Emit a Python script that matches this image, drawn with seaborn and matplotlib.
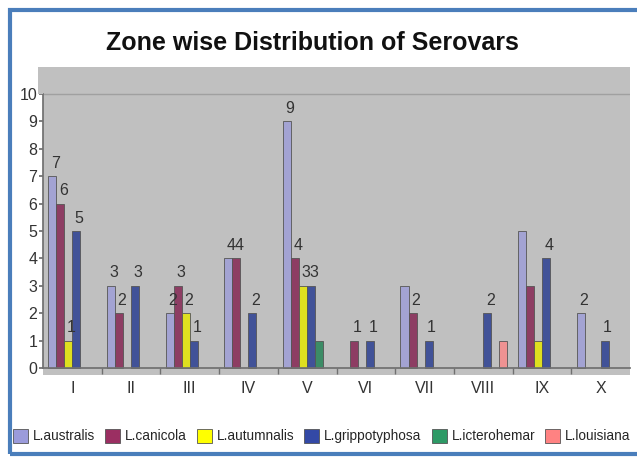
import numpy as np
import pandas as pd
import matplotlib
matplotlib.use('Agg')
import matplotlib.pyplot as plt
import seaborn as sns
from matplotlib.patches import Rectangle

zones = ['I', 'II', 'III', 'IV', 'V', 'VI', 'VII', 'VIII', 'IX', 'X']
serovars = ['L.australis', 'L.canicola', 'L.autumnalis', 'L.grippotyphosa',
            'L.icterohemar', 'L.louisiana']

australis = [7, 3, 2, 4, 9, 0, 3, 0, 5, 2]
canicola = [6, 2, 3, 4, 4, 1, 2, 0, 3, 0]
autumnalis = [1, 0, 2, 0, 3, 0, 0, 0, 1, 0]
grippotyphosa = [5, 3, 1, 2, 3, 1, 1, 2, 4, 1]
icterohemar = [0, 0, 0, 0, 1, 0, 0, 0, 0, 0]
louisiana = [0, 0, 0, 0, 0, 0, 0, 1, 0, 0]

# data labels that the original chart does not show
hidden_labels = [('V', 'L.icterohemar'), ('VII', 'L.australis'), ('VIII', 'L.louisiana'),
                 ('IX', 'L.australis'), ('IX', 'L.canicola'), ('IX', 'L.autumnalis')]

colors = ['#9B9BDB', '#9B2F62', '#FFFF00', '#3349A6', '#2E9A66', '#FF8282']

# long format table, zero counts dropped so no empty bars get drawn
rows = []
for name, vals in zip(serovars, [australis, canicola, autumnalis, grippotyphosa,
                                 icterohemar, louisiana]):
    for z, v in zip(zones, vals):
        if v > 0:
            rows.append({'Zone': z, 'Serovar': name, 'Count': v})
df = pd.DataFrame(rows)

sns.set_theme(style='white')
plt.rcParams['font.family'] = ['Liberation Sans', 'DejaVu Sans']

W, H = 637, 457
fig = plt.figure(figsize=(W / 100, H / 100), dpi=100)
ax = fig.add_axes([43 / W, 1 - 375 / H, (630 - 43) / W, (375 - 67) / H])
ax.set_facecolor('#C0C0C0')

sns.barplot(data=df, x='Zone', y='Count', hue='Serovar', order=zones,
            hue_order=serovars, palette=colors, width=0.82, dodge=True,
            edgecolor='#555555', linewidth=0.6, legend=False, ax=ax)

ax.set_xlim(-0.5, len(zones) - 0.5)
ax.set_ylim(-0.255, 10.985)
ax.set_yticks(range(0, 11))
ax.set_xlabel('')
ax.set_ylabel('')

# value labels above bars
for name, cont in zip(serovars, ax.containers):
    for bar in cont:
        h = bar.get_height()
        if np.isnan(h) or h == 0:
            continue
        zi = int(round(bar.get_x() + bar.get_width() / 2))
        if (zones[zi], name) in hidden_labels:
            continue
        ax.text(bar.get_x() + bar.get_width() / 2 + 0.05, h + 0.2, f'{int(h)}',
                ha='center', va='bottom', fontsize=11.5, color='#333333')

ax.axhline(10, color='#A0A0A0', lw=1, zorder=0)
for s in ['top', 'right']:
    ax.spines[s].set_visible(False)
ax.spines['left'].set_bounds(0, 10)
ax.spines['left'].set_color('#707070')
ax.spines['bottom'].set_position(('data', 0))
ax.spines['bottom'].set_color('#707070')
ax.tick_params(axis='y', direction='out', length=3, color='#707070', labelsize=11.5,
               labelcolor='#333333', pad=1, left=True)
ax.tick_params(axis='x', which='major', length=0, labelsize=11.5, labelcolor='#333333', pad=9)
ax.set_xticks(np.arange(0.5, len(zones) - 1, 1), minor=True)
ax.tick_params(axis='x', which='minor', direction='out', length=4, color='#707070', bottom=True)

# back wall strip to the left of the axis (3D look of the original)
fig.add_artist(Rectangle((38 / W, 1 - 94 / H), 5 / W, 27 / H, transform=fig.transFigure,
                         facecolor='#C0C0C0', edgecolor='none'))

fig.text(0.49, 1 - 43 / H, 'Zone wise Distribution of Serovars', ha='center', va='center',
         fontsize=18, fontweight='bold', color='#111111')

handles = [Rectangle((0, 0), 1, 1, facecolor=c, edgecolor='#555555', linewidth=0.6)
           for c in colors]
fig.legend(handles, serovars, loc='center', bbox_to_anchor=(0.505, 1 - 436 / H), ncol=6,
           frameon=False, fontsize=9.8, handlelength=1.1, handleheight=1.3,
           handletextpad=0.35, columnspacing=0.75)

# blue frame around the chart
fig.add_artist(Rectangle((9.5 / W, 1 - 454 / H), 1.0, (454 - 9.5) / H,
                         transform=fig.transFigure, fill=False, edgecolor='#4A7EBB',
                         linewidth=3))

fig.savefig('out.png', dpi=100)
